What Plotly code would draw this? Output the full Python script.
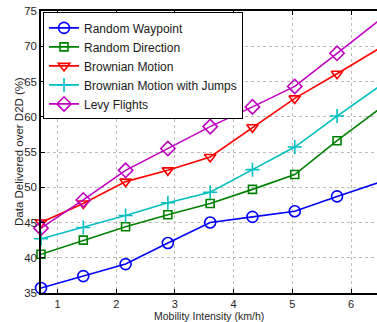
import plotly.graph_objects as go

x_kmh = [0.72, 1.44, 2.16, 2.88, 3.60, 4.32, 5.04, 5.76, 6.48]

random_waypoint = [35.7, 37.4, 39.1, 42.1, 45.0, 45.8, 46.6, 48.7, 50.7]
random_direction = [40.5, 42.5, 44.4, 46.1, 47.7, 49.7, 51.8, 56.6, 61.1]
brownian = [45.0, 47.7, 50.8, 52.4, 54.3, 58.5, 62.6, 66.1, 69.7]
brownian_jumps = [42.7, 44.3, 46.0, 47.8, 49.3, 52.5, 55.7, 60.1, 64.3]
levy = [44.2, 48.2, 52.4, 55.5, 58.6, 61.4, 64.3, 69.0, 73.7]

series_names = ["Random Waypoint", "Random Direction", "Brownian Motion",
                "Brownian Motion with Jumps", "Levy Flights"]
series_values = [random_waypoint, random_direction, brownian, brownian_jumps, levy]
colors = ["#0000FF", "#008000", "#FF0000", "#00BFBF", "#BF00BF"]
symbols = ["circle-open", "square-open", "triangle-down-open", "cross-thin-open", "diamond-open"]
sizes = [11, 8, 10, 10, 11]

y_ticks = [35, 40, 45, 50, 55, 60, 65, 70, 75]
x_ticks = [1, 2, 3, 4, 5, 6]

x_title = "Mobility Intensity (km/h)"
y_title = "Data Delivered over D2D (%)"

fig = go.Figure()
for name, vals, c, s, sz in zip(series_names, series_values, colors, symbols, sizes):
    fig.add_trace(go.Scatter(
        x=x_kmh, y=vals, name=name, mode="lines+markers",
        line=dict(color=c, width=1.6),
        marker=dict(symbol=s, size=sz, color=c, line=dict(color=c, width=1.6)),
        cliponaxis=False,
    ))

font_family = "Liberation Sans, Arial, Helvetica, sans-serif"
fig.update_layout(
    width=377, height=322,
    margin=dict(l=41, r=0, t=11, b=29),
    paper_bgcolor="white", plot_bgcolor="white",
    font=dict(family=font_family, size=12, color="#262626"),
    showlegend=True,
    legend=dict(
        x=0.006, y=0.995, xanchor="left", yanchor="top",
        bgcolor="white", bordercolor="black", borderwidth=1,
        font=dict(size=12, color="#1a1a1a"),
        itemwidth=30, tracegroupgap=0,
    ),
    xaxis=dict(
        range=[0.72, 6.44], tickvals=x_ticks, ticks="inside", ticklen=4,
        tickcolor="black", showline=True, linecolor="black", linewidth=1.5,
        mirror="ticks", showgrid=True, gridcolor="#bdbdbd", griddash="dot",
        gridwidth=1, zeroline=False,
        tickfont=dict(size=11), automargin=False,
    ),
    yaxis=dict(
        range=[35, 75], tickvals=y_ticks, ticks="inside", ticklen=4,
        tickcolor="black", showline=True, linecolor="black", linewidth=1.5,
        mirror=False, showgrid=True, gridcolor="#bdbdbd", griddash="dot",
        gridwidth=1, zeroline=False,
        tickfont=dict(size=11.5), automargin=False,
    ),
    annotations=[
        dict(text=x_title, xref="paper", yref="paper", x=0.5, y=0,
             xanchor="center", yanchor="bottom", yshift=-29.5, showarrow=False,
             font=dict(size=10.5, color="#262626"), borderpad=0),
        dict(text=y_title, xref="paper", yref="paper", x=0, y=0.5,
             xanchor="center", yanchor="middle", xshift=-22, textangle=-90,
             showarrow=False, font=dict(size=11.5, color="#262626"), borderpad=0),
    ],
)

fig.write_html("out.html")
